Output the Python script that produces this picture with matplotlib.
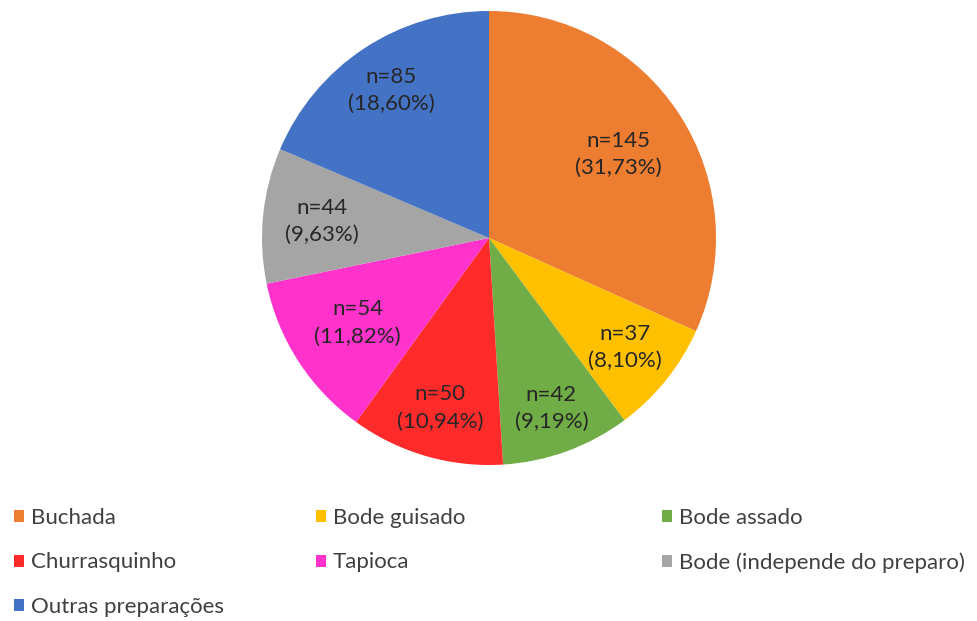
import matplotlib
matplotlib.use("Agg")
import matplotlib.pyplot as plt
from matplotlib.patches import Patch
import numpy as np

plt.rcParams['font.family'] = ['Lato', 'DejaVu Sans']

categories = ['Buchada', 'Bode guisado', 'Bode assado', 'Churrasquinho',
              'Tapioca', 'Bode (independe do preparo)', 'Outras preparações']
counts = [145, 37, 42, 50, 54, 44, 85]
pct_labels = ['31,73%', '8,10%', '9,19%', '10,94%', '11,82%', '9,63%', '18,60%']
colors = ['#ED7D31', '#FFC000', '#70AD47', '#FF2B2B', '#FF33CC', '#A5A5A5', '#4472C4']
# radial position of each data label (fraction of radius)
label_r = [0.68, 0.77, 0.80, 0.78, 0.69, 0.74, 0.78]

W, H = 977, 621
fig = plt.figure(figsize=(W / 100, H / 100), dpi=100)
cx, cy, R = 489, 238, 227
ax = fig.add_axes([(cx - R) / W, (H - cy - R) / H, 2 * R / W, 2 * R / H])

wedges, _ = ax.pie(counts, colors=colors, startangle=90, counterclock=False,
                   radius=1.0, wedgeprops=dict(linewidth=0))
ax.set_xlim(-1, 1)
ax.set_ylim(-1, 1)
ax.set_aspect('equal')
ax.axis('off')

for w, n, p, r in zip(wedges, counts, pct_labels, label_r):
    ang = np.deg2rad((w.theta1 + w.theta2) / 2)
    ax.text(r * np.cos(ang), r * np.sin(ang), f'n={n}\n({p})',
            ha='center', va='center', fontsize=16, color='#262626',
            linespacing=1.45)

# legend laid out in three columns like the original
cols = [[0, 3, 6], [1, 4], [2, 5]]
col_x = [14, 316, 662]
for idxs, x in zip(cols, col_x):
    handles = [Patch(facecolor=colors[i], edgecolor='none') for i in idxs]
    labels = [categories[i] for i in idxs]
    fig.legend(handles, labels, loc='upper left',
               bbox_to_anchor=(x / W, 1 - 508 / H), frameon=False,
               fontsize=16, handlelength=0.45, handleheight=0.45,
               handletextpad=0.3, labelspacing=1.1, labelcolor='#404040',
               borderpad=0, borderaxespad=0)

fig.savefig('out.png', dpi=100)
